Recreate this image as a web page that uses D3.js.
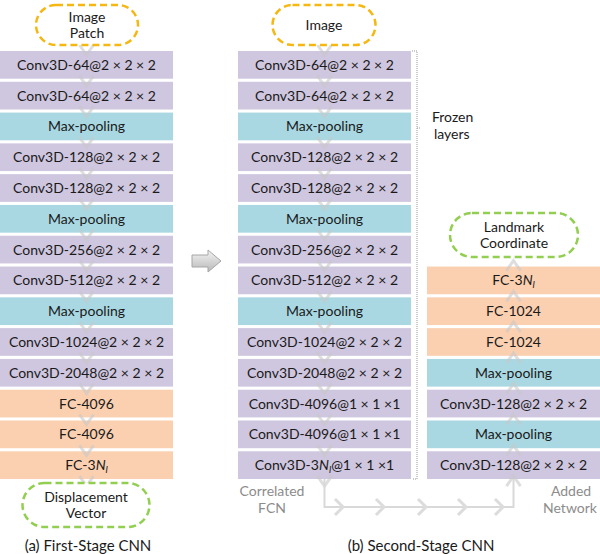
<!DOCTYPE html>
<html>
<head>
<meta charset="utf-8">
<script src="https://cdn.jsdelivr.net/npm/d3@7"></script>
<style>
  body{margin:0;background:#fff;}
  text{font-family:Lato, "Open Sans", sans-serif;}
</style>
</head>
<body>
<div class="diagram"></div>
<script>
// layer stacks, top to bottom
var firstStage=["Conv3D-64@2 × 2 × 2","Conv3D-64@2 × 2 × 2","Max-pooling","Conv3D-128@2 × 2 × 2","Conv3D-128@2 × 2 × 2",
  "Max-pooling","Conv3D-256@2 × 2 × 2","Conv3D-512@2 × 2 × 2","Max-pooling","Conv3D-1024@2 × 2 × 2","Conv3D-2048@2 × 2 × 2",
  "FC-4096","FC-4096","FC-3N"];
var firstTypes=["conv","conv","pool","conv","conv","pool","conv","conv","pool","conv","conv","fc","fc","fc"];

var secondStage=["Conv3D-64@2 × 2 × 2","Conv3D-64@2 × 2 × 2","Max-pooling","Conv3D-128@2 × 2 × 2","Conv3D-128@2 × 2 × 2",
  "Max-pooling","Conv3D-256@2 × 2 × 2","Conv3D-512@2 × 2 × 2","Max-pooling","Conv3D-1024@2 × 2 × 2","Conv3D-2048@2 × 2 × 2",
  "Conv3D-4096@1 × 1 ×1","Conv3D-4096@1 × 1 ×1","Conv3D-3N@1 × 1 ×1"];
var secondTypes=["conv","conv","pool","conv","conv","pool","conv","conv","pool","conv","conv","conv","conv","conv"];

// added network, starting at row 7
var addedNet=["FC-3N","FC-1024","FC-1024","Max-pooling","Conv3D-128@2 × 2 × 2","Max-pooling","Conv3D-128@2 × 2 × 2"];
var addedTypes=["fc","fc","fc","pool","conv","pool","conv"];
var addedStart=7;

var fills={conv:"#cfc6df", pool:"#a9d8e2", fc:"#fbd0b0"};
var fs="14px";

var W=600, H=554;
var svg=d3.select(".diagram").append("svg")
  .attr("width",W).attr("height",H);

var defs=svg.append("defs");
var grad=defs.append("linearGradient").attr("id","arrowGrad")
  .attr("x1","0").attr("y1","0").attr("x2","0").attr("y2","1");
grad.append("stop").attr("offset","0").attr("stop-color","#f4f4f4");
grad.append("stop").attr("offset","1").attr("stop-color","#b8b8b8");

var row=d3.scaleBand().domain(d3.range(14)).range([51,479]).paddingInner(0.1);

var cols={
  a:{x0:0, x1:173},
  b:{x0:238, x1:411},
  c:{x0:427, x1:600}
};

function label(sel, txt){
  // FC-3N / Conv3D-3N get italic N with subscript l
  var i=txt.indexOf("3N");
  if(i<0){ sel.text(txt); return; }
  sel.append("tspan").text(txt.slice(0,i+1));
  sel.append("tspan").attr("font-style","italic").text("N");
  sel.append("tspan").attr("font-style","italic").attr("font-size","10px").attr("dy",3).text("l");
  var rest=txt.slice(i+2);
  if(rest) sel.append("tspan").attr("dy",-3).text(rest);
}

function stack(col, labels, types, start, dir){
  var g=svg.append("g");
  var cx=(col.x0+col.x1)/2;
  var boxes=g.selectAll(".box").data(labels).enter().append("g").attr("class","box");
  boxes.append("rect")
    .attr("x",col.x0).attr("width",col.x1-col.x0)
    .attr("y",function(d,i){return row(i+start);})
    .attr("height",row.bandwidth())
    .attr("fill",function(d,i){return fills[types[i]];});
  boxes.append("text")
    .attr("x",cx)
    .attr("y",function(d,i){return row(i+start)+row.bandwidth()/2+5;})
    .attr("text-anchor","middle").attr("font-size",fs).attr("fill","#1a1a1a")
    .each(function(d){label(d3.select(this),d);});
  // faint flow chevrons in the gaps
  var gaps=d3.range(start, start+labels.length+1);
  g.selectAll(".chev").data(gaps).enter().append("path")
    .attr("d",function(i){
      var y=(i<14?row(i):row(13)+row.step())-1;
      var h=dir>0?5:-5;
      return "M"+(cx-7)+","+(y-h)+"L"+cx+","+(y+h)+"L"+(cx+7)+","+(y-h);
    })
    .attr("fill","none").attr("stroke","#c8c8c8").attr("stroke-width",3).attr("opacity",0.6);
}

stack(cols.a, firstStage, firstTypes, 0, 1);
stack(cols.b, secondStage, secondTypes, 0, 1);
stack(cols.c, addedNet, addedTypes, addedStart, -1);

// dashed terminals
function terminal(cx, cy, w, h, color, lines){
  svg.append("rect")
    .attr("x",cx-w/2).attr("y",cy-h/2).attr("width",w).attr("height",h)
    .attr("rx",h/2).attr("ry",h/2)
    .attr("fill","#fff").attr("stroke",color).attr("stroke-width",2.5)
    .attr("stroke-dasharray","7,4");
  var t=svg.append("text").attr("text-anchor","middle").attr("font-size",fs).attr("fill","#1a1a1a");
  lines.forEach(function(s,k){
    t.append("tspan").attr("x",cx)
      .attr("y",cy+5+(k-(lines.length-1)/2)*16).text(s);
  });
}
terminal(87,25,102,40,"#f5b712",["Image","Patch"]);
terminal(86,505,127,44,"#92cf50",["Displacement","Vector"]);
terminal(324,25,103,40,"#f5b712",["Image"]);
terminal(514,235,128,44,"#92cf50",["Landmark","Coordinate"]);

// frozen bracket
var bx=417;
var bt=row(0), bb=row(13)+row.bandwidth();
svg.append("path")
  .attr("d","M"+(bx-5)+","+bt+"H"+bx+"V"+bb+"H"+(bx-5)+"M"+bx+",128H"+(bx+4))
  .attr("fill","none").attr("stroke","#999").attr("stroke-width",1).attr("stroke-dasharray","1,1");
svg.append("text").attr("font-size",fs).attr("fill","#1a1a1a")
  .selectAll("tspan").data(["Frozen","layers"]).enter().append("tspan")
  .attr("x",function(d,i){return i?434:432;}).attr("y",function(d,i){return 122+i*17;})
  .text(function(d){return d;});

// connector from FCN to added network
var lx=(cols.b.x0+cols.b.x1)/2, rx=(cols.c.x0+cols.c.x1)/2;
svg.append("path")
  .attr("d","M"+lx+","+bb+"V507H"+rx+"V"+bb)
  .attr("fill","none").attr("stroke","#d9d9d9").attr("stroke-width",2);
var chevX=[340,381,423,463,500];
svg.selectAll(".hchev").data(chevX).enter().append("path")
  .attr("d",function(x){return "M"+(x-5)+",499L"+(x+3)+",507L"+(x-5)+",515";})
  .attr("fill","none").attr("stroke","#dcdcdc").attr("stroke-width",3);

svg.append("text").attr("font-size",fs).attr("fill","#8c8c8c").attr("text-anchor","middle")
  .selectAll("tspan").data(["Correlated","FCN"]).enter().append("tspan")
  .attr("x",272).attr("y",function(d,i){return 496+i*17;}).text(function(d){return d;});
svg.append("text").attr("font-size",fs).attr("fill","#8c8c8c").attr("text-anchor","middle")
  .selectAll("tspan").data(["Added","Network"]).enter().append("tspan")
  .attr("x",function(d,i){return i?570:571;}).attr("y",function(d,i){return 496+i*17;}).text(function(d){return d;});

// big arrow between stages
svg.append("path")
  .attr("d","M192,255H208V250L221,261L208,272V267H192Z")
  .attr("fill","url(#arrowGrad)").attr("stroke","#a6a6a6").attr("stroke-width",1);

// captions
svg.append("text").attr("x",88).attr("y",551).attr("text-anchor","middle")
  .attr("font-size","15px").attr("fill","#1a1a1a").text("(a) First-Stage CNN");
svg.append("text").attr("x",421).attr("y",551).attr("text-anchor","middle")
  .attr("font-size","15px").attr("fill","#1a1a1a").text("(b) Second-Stage CNN");
</script>
</body>
</html>
